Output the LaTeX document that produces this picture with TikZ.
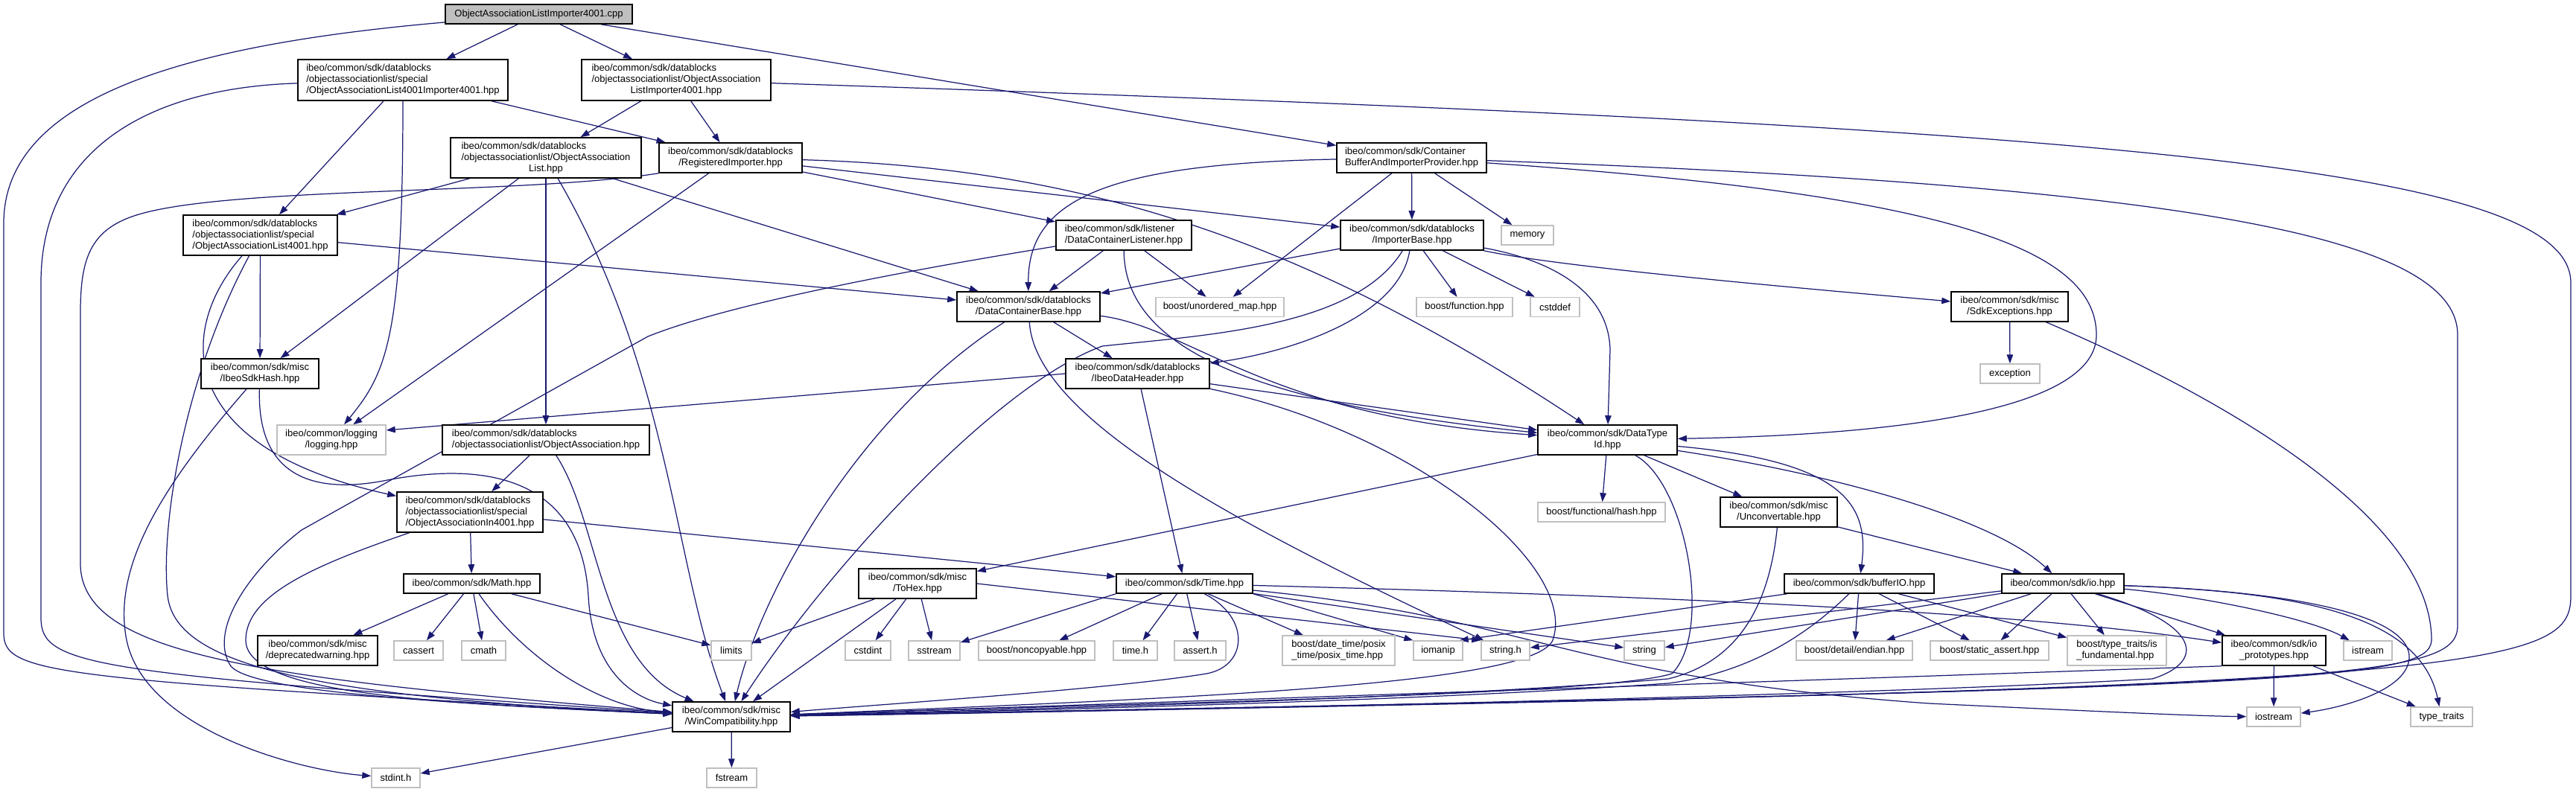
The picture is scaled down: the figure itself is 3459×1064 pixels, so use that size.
\documentclass[tikz,border=0pt]{standalone}
\usepackage{fontspec}
\setmainfont{Liberation Sans}
\usetikzlibrary{arrows.meta}
\definecolor{linkblue}{HTML}{191970}
\definecolor{boxgray}{HTML}{BFBFBF}
\pgfdeclarelayer{bg}
\pgfsetlayers{bg,main}
\begin{document}
\begin{tikzpicture}[
  x=0.02cm, y=-0.02cm,
  font=\fontsize{7.4}{8.6}\selectfont,
  file/.style={draw, line width=0.9pt, fill=white, inner sep=1pt},
  sys/.style={draw=boxgray, line width=0.8pt, fill=white, inner sep=1pt},
  sz/.style 2 args={minimum width=#1*0.02cm, minimum height=#2*0.02cm},
  arr/.style={-{Triangle[length=0.24cm,width=0.17cm]}, draw=linkblue, line width=0.7pt}
]
\useasboundingbox (0,0) rectangle (3459,1064);
\node[file, fill=boxgray, sz={251}{26}] (root) at (723.5,19) {ObjectAssociationListImporter4001.cpp};
\node[file, sz={282}{55}, align=left] (oalimpspec) at (541,107.5) {ibeo/common/sdk/datablocks\\/objectassociationlist/special\\/ObjectAssociationList4001Importer4001.hpp};
\node[file, sz={254}{55}, align=left] (oalimp) at (908,107.5) {ibeo/common/sdk/datablocks\\/objectassociationlist/ObjectAssociation\\\null\hfil ListImporter4001.hpp};
\node[file, sz={256}{54}, align=left] (oal) at (733,212) {ibeo/common/sdk/datablocks\\/objectassociationlist/ObjectAssociation\\\null\hfil List.hpp};
\node[file, sz={207}{54}, align=left] (oalspec) at (349.5,316) {ibeo/common/sdk/datablocks\\/objectassociationlist/special\\/ObjectAssociationList4001.hpp};
\node[file, sz={192}{40}, align=center] (regimp) at (981,212) {ibeo/common/sdk/datablocks\\/RegisteredImporter.hpp};
\node[file, sz={182}{40}, align=left] (dcl) at (1509,316) {ibeo/common/sdk/listener\\/DataContainerListener.hpp};
\node[file, sz={201}{40}, align=left] (cbip) at (1895.5,212) {ibeo/common/sdk/Container\\BufferAndImporterProvider.hpp};
\node[file, sz={192}{40}, align=center] (impbase) at (1896,316) {ibeo/common/sdk/datablocks\\/ImporterBase.hpp};
\node[sys, sz={70}{26}] (memory) at (2051,316) {memory};
\node[file, sz={158}{40}, align=center] (hash) at (349,502) {ibeo/common/sdk/misc\\/IbeoSdkHash.hpp};
\node[sys, sz={146}{40}, align=center] (logging) at (445,591) {ibeo/common/logging\\/logging.hpp};
\node[file, sz={278}{40}, align=left] (oa) at (733,591) {ibeo/common/sdk/datablocks\\/objectassociationlist/ObjectAssociation.hpp};
\node[file, sz={196}{54}, align=left] (oain) at (631,688) {ibeo/common/sdk/datablocks\\/objectassociationlist/special\\/ObjectAssociationIn4001.hpp};
\node[file, sz={192}{40}, align=center] (dcb) at (1381,412) {ibeo/common/sdk/datablocks\\/DataContainerBase.hpp};
\node[sys, sz={172}{26}] (umap) at (1638,412.5) {boost/unordered\_map.hpp};
\node[file, sz={193}{40}, align=center] (idh) at (1527.5,502) {ibeo/common/sdk/datablocks\\/IbeoDataHeader.hpp};
\node[sys, sz={129}{26}] (bfunc) at (1966.5,412.5) {boost/function.hpp};
\node[sys, sz={66}{26}] (cstddef) at (2088,412.5) {cstddef};
\node[file, sz={187}{40}, align=center] (dtid) at (2158.5,591) {ibeo/common/sdk/DataType\\Id.hpp};
\node[sys, sz={171}{26}] (fhash) at (2150.5,688) {boost/functional/hash.hpp};
\node[file, sz={157}{40}, align=center] (unconv) at (2388.5,688) {ibeo/common/sdk/misc\\/Unconvertable.hpp};
\node[file, sz={157}{40}, align=center] (sdkexc) at (2698.5,412) {ibeo/common/sdk/misc\\/SdkExceptions.hpp};
\node[sys, sz={80}{26}] (exception) at (2699,502) {exception};
\node[file, sz={183}{26}] (math) at (633.5,784) {ibeo/common/sdk/Math.hpp};
\node[file, sz={161}{40}, align=center] (deprec) at (426.5,874) {ibeo/common/sdk/misc\\/deprecatedwarning.hpp};
\node[sys, sz={66}{26}] (cassert) at (562,874) {cassert};
\node[sys, sz={59}{26}] (cmath) at (649.5,874) {cmath};
\node[sys, sz={65}{26}] (stdint) at (531.5,1045) {stdint.h};
\node[file, sz={158}{40}, align=center] (tohex) at (1232,784) {ibeo/common/sdk/misc\\/ToHex.hpp};
\node[file, sz={183}{26}] (time) at (1590.5,784) {ibeo/common/sdk/Time.hpp};
\node[sys, sz={54}{26}] (limits) at (982,874) {limits};
\node[sys, sz={61}{26}] (cstdint) at (1165.5,874) {cstdint};
\node[sys, sz={69}{26}] (sstream) at (1254.5,874) {sstream};
\node[sys, sz={156}{26}] (noncopy) at (1392,874) {boost/noncopyable.hpp};
\node[sys, sz={59}{26}] (timeh) at (1524.5,874) {time.h};
\node[sys, sz={69}{26}] (asserth) at (1611.5,874) {assert.h};
\node[file, sz={158}{40}, align=center] (wincomp) at (982,963) {ibeo/common/sdk/misc\\/WinCompatibility.hpp};
\node[sys, sz={67}{26}] (fstream) at (982.5,1045) {fstream};
\node[sys, sz={151}{40}, align=left] (posix) at (1797.5,874) {boost/date\_time/posix\\\_time/posix\_time.hpp};
\node[sys, sz={66}{26}] (iomanip) at (1931,874) {iomanip};
\node[sys, sz={65}{26}] (stringh) at (2021.5,874) {string.h};
\node[sys, sz={54}{26}] (string) at (2208,874) {string};
\node[file, sz={201}{26}] (bufio) at (2496.5,784) {ibeo/common/sdk/bufferIO.hpp};
\node[sys, sz={156}{26}] (endian) at (2490,874) {boost/detail/endian.hpp};
\node[file, sz={164}{26}] (io) at (2770,784) {ibeo/common/sdk/io.hpp};
\node[sys, sz={159}{26}] (sassert) at (2671.5,874) {boost/static\_assert.hpp};
\node[sys, sz={133}{40}, align=left] (isfund) at (2842.5,874) {boost/type\_traits/is\\\_fundamental.hpp};
\node[file, sz={139}{40}, align=center] (ioproto) at (3053.5,874) {ibeo/common/sdk/io\\\_prototypes.hpp};
\node[sys, sz={65}{26}] (istream) at (3179.5,874) {istream};
\node[sys, sz={72}{26}] (iostream) at (3053,963) {iostream};
\node[sys, sz={83}{26}] (typetr) at (3278.5,963) {type\_traits};
\begin{pgfonlayer}{bg}
\draw[arr] (root) -- (oalimpspec);
\draw[arr] (root) -- (oalimp);
\draw[arr] (root) -- (cbip);
\draw[arr] (root) .. controls (250,60) and (5,130) .. (5,300) -- (5,850) .. controls (5,905) and (60,912) .. (wincomp);
\draw[arr] (oalimpspec) .. controls (200,118) and (55,200) .. (55,380) -- (55,830) .. controls (55,895) and (120,905) .. (wincomp);
\draw[arr] (oalimpspec) -- (oalspec);
\draw[arr] (oalimpspec) .. controls (541,450) and (520,500) .. (logging);
\draw[arr] (oalimpspec) -- (regimp);
\draw[arr] (oalimp) -- (oal);
\draw[arr] (oalimp) -- (regimp);
\draw[arr] (oalimp) .. controls (2800,170) and (3452,220) .. (3452,380) -- (3452,800) .. controls (3452,900) and (3350,925) .. (wincomp);
\draw[arr] (oal) -- (oalspec);
\draw[arr] (oal) -- (hash);
\draw[arr] (oal) -- (oa);
\draw[arr] (oal) .. controls (900,500) and (905,760) .. (wincomp);
\draw[arr] (oal) -- (dcb);
\draw[arr] (regimp.south west) .. controls (700,262) and (300,250) .. (180,290) .. controls (120,310) and (108,350) .. (108,420) -- (108,760) .. controls (112,880) and (350,912) .. (wincomp);
\draw[arr] (regimp) -- (logging);
\draw[arr] (regimp) -- (dcl);
\draw[arr] (regimp) -- (impbase);
\draw[arr] (regimp) .. controls (1450,225) and (1750,320) .. (dtid);
\draw[arr] (dcl) .. controls (1300,350) and (1000,400) .. (870,452) -- (405,712) .. controls (330,770) and (280,850) .. (310,895) .. controls (340,930) and (600,945) .. (wincomp);
\draw[arr] (dcl) -- (dcb);
\draw[arr] (dcl) .. controls (1510,460) and (1660,540) .. (dtid);
\draw[arr] (dcl) -- (umap);
\draw[arr] (cbip) .. controls (1480,220) and (1380,270) .. (dcb);
\draw[arr] (cbip) -- (umap);
\draw[arr] (cbip) -- (impbase);
\draw[arr] (cbip) -- (memory);
\draw[arr] (cbip) .. controls (2600,260) and (2815,330) .. (2815,450) .. controls (2815,560) and (2500,585) .. (dtid);
\draw[arr] (cbip) .. controls (2950,250) and (3300,320) .. (3300,450) -- (3300,840) .. controls (3300,915) and (3150,925) .. (wincomp);
\draw[arr] (impbase) -- (dcb);
\draw[arr] (impbase) .. controls (1880,420) and (1750,470) .. (idh);
\draw[arr] (impbase) .. controls (1820,440) and (1620,450) .. (1480,465) .. controls (1330,520) and (1100,780) .. (wincomp);
\draw[arr] (impbase) -- (bfunc);
\draw[arr] (impbase) -- (cstddef);
\draw[arr] (impbase) .. controls (2060,345) and (2160,380) .. (2162,470) -- (dtid);
\draw[arr] (impbase) .. controls (2100,360) and (2450,390) .. (sdkexc);
\draw[arr] (oalspec) -- (dcb);
\draw[arr] (oalspec) -- (hash);
\draw[arr] (oalspec) .. controls (240,440) and (230,600) .. (oain);
\draw[arr] (oalspec) .. controls (250,500) and (215,700) .. (225,800) .. controls (235,890) and (400,935) .. (wincomp);
\draw[arr] (hash) .. controls (220,650) and (150,760) .. (170,860) .. controls (195,980) and (400,1035) .. (stdint);
\draw[arr] (hash) .. controls (345,640) and (420,665) .. (520,645) .. controls (650,620) and (780,640) .. (790,800) .. controls (795,900) and (850,938) .. (wincomp);
\draw[arr] (oa) -- (oain);
\draw[arr] (oa) .. controls (805,700) and (805,890) .. (wincomp);
\draw[arr] (oain) -- (time);
\draw[arr] (oain) -- (math);
\draw[arr] (oain) .. controls (420,760) and (330,800) .. (330,860) .. controls (330,935) and (600,945) .. (wincomp);
\draw[arr] (math) -- (deprec);
\draw[arr] (math) -- (cassert);
\draw[arr] (math) -- (cmath);
\draw[arr] (math) -- (limits);
\draw[arr] (math) .. controls (700,880) and (800,950) .. (wincomp);
\draw[arr] (idh.west) -- ([yshift=0.26cm]logging.east);
\draw[arr] (idh) -- (time);
\draw[arr] (idh) -- (dtid);
\draw[arr] (idh) .. controls (1900,580) and (2120,760) .. (2085,860) .. controls (2060,920) and (1600,938) .. (wincomp);
\draw[arr] (dcb) .. controls (1150,560) and (1020,800) .. (wincomp);
\draw[arr] (dcb) .. controls (1390,560) and (1650,700) .. (stringh);
\draw[arr] (dcb) -- (idh);
\draw[arr] (dcb) .. controls (1600,440) and (1700,560) .. (dtid);
\draw[arr] (dtid) -- (tohex);
\draw[arr] (dtid) -- (fhash);
\draw[arr] (dtid) .. controls (2265,650) and (2300,850) .. (2245,905) .. controls (2150,935) and (1500,945) .. (wincomp);
\draw[arr] (dtid) -- (unconv);
\draw[arr] (dtid) .. controls (2480,620) and (2510,680) .. (bufio);
\draw[arr] (dtid) .. controls (2480,640) and (2680,700) .. (io);
\draw[arr] (unconv) .. controls (2375,820) and (2330,890) .. (2240,912) .. controls (1900,940) and (1400,952) .. (wincomp);
\draw[arr] (unconv) -- (io);
\draw[arr] (bufio) -- ([xshift=-0.1cm]iomanip.north east);
\draw[arr] (bufio) .. controls (2420,860) and (2340,905) .. (2240,918) .. controls (1900,942) and (1400,954) .. (wincomp);
\draw[arr] (bufio) -- (endian);
\draw[arr] (bufio) -- (sassert);
\draw[arr] (bufio) -- (isfund);
\draw[arr] (io) -- (string);
\draw[arr] (io) -- (stringh);
\draw[arr] (io) -- (endian);
\draw[arr] (io) -- (sassert);
\draw[arr] (io) -- (isfund);
\draw[arr] (io) -- (ioproto);
\draw[arr] (io) .. controls (2960,840) and (2960,890) .. (2890,912) .. controls (2500,935) and (1500,956) .. (wincomp);
\draw[arr] (io) .. controls (2950,800) and (3100,830) .. (istream);
\draw[arr] (io) .. controls (3100,795) and (3250,830) .. (typetr);
\draw[arr] (io) .. controls (3100,795) and (3230,830) .. (3235,880) .. controls (3238,925) and (3150,950) .. (iostream);
\draw[arr] (ioproto) -- (iostream);
\draw[arr] (ioproto) -- (typetr);
\draw[arr] (ioproto.south west) -- (wincomp);
\draw[arr] (sdkexc) -- (exception);
\draw[arr] (sdkexc) .. controls (3000,540) and (3265,700) .. (3265,860) .. controls (3262,915) and (3100,925) .. (wincomp);
\draw[arr] (tohex) -- (limits);
\draw[arr] (tohex) -- (wincomp);
\draw[arr] (tohex) -- (cstdint);
\draw[arr] (tohex) -- (sstream);
\draw[arr] (tohex.east) -- (stringh.north west);
\draw[arr] (time.south west) -- (sstream);
\draw[arr] (time) -- (noncopy);
\draw[arr] (time) -- (timeh);
\draw[arr] (time) -- (asserth);
\draw[arr] (time) .. controls (1680,830) and (1675,895) .. (1620,905) .. controls (1500,925) and (1200,945) .. (wincomp);
\draw[arr] (time) -- (posix);
\draw[arr] (time.south east) -- (iomanip.north west);
\draw[arr] (time) -- (string);
\draw[arr] (time) .. controls (2200,800) and (2700,820) .. (ioproto);
\draw[arr] (time) .. controls (2060,830) and (2100,910) .. (2590,945) .. controls (2800,955) and (2950,962) .. (iostream);
\draw[arr] (wincomp) -- (stdint);
\draw[arr] (wincomp) -- (fstream);
\end{pgfonlayer}
\end{tikzpicture}
\end{document}
